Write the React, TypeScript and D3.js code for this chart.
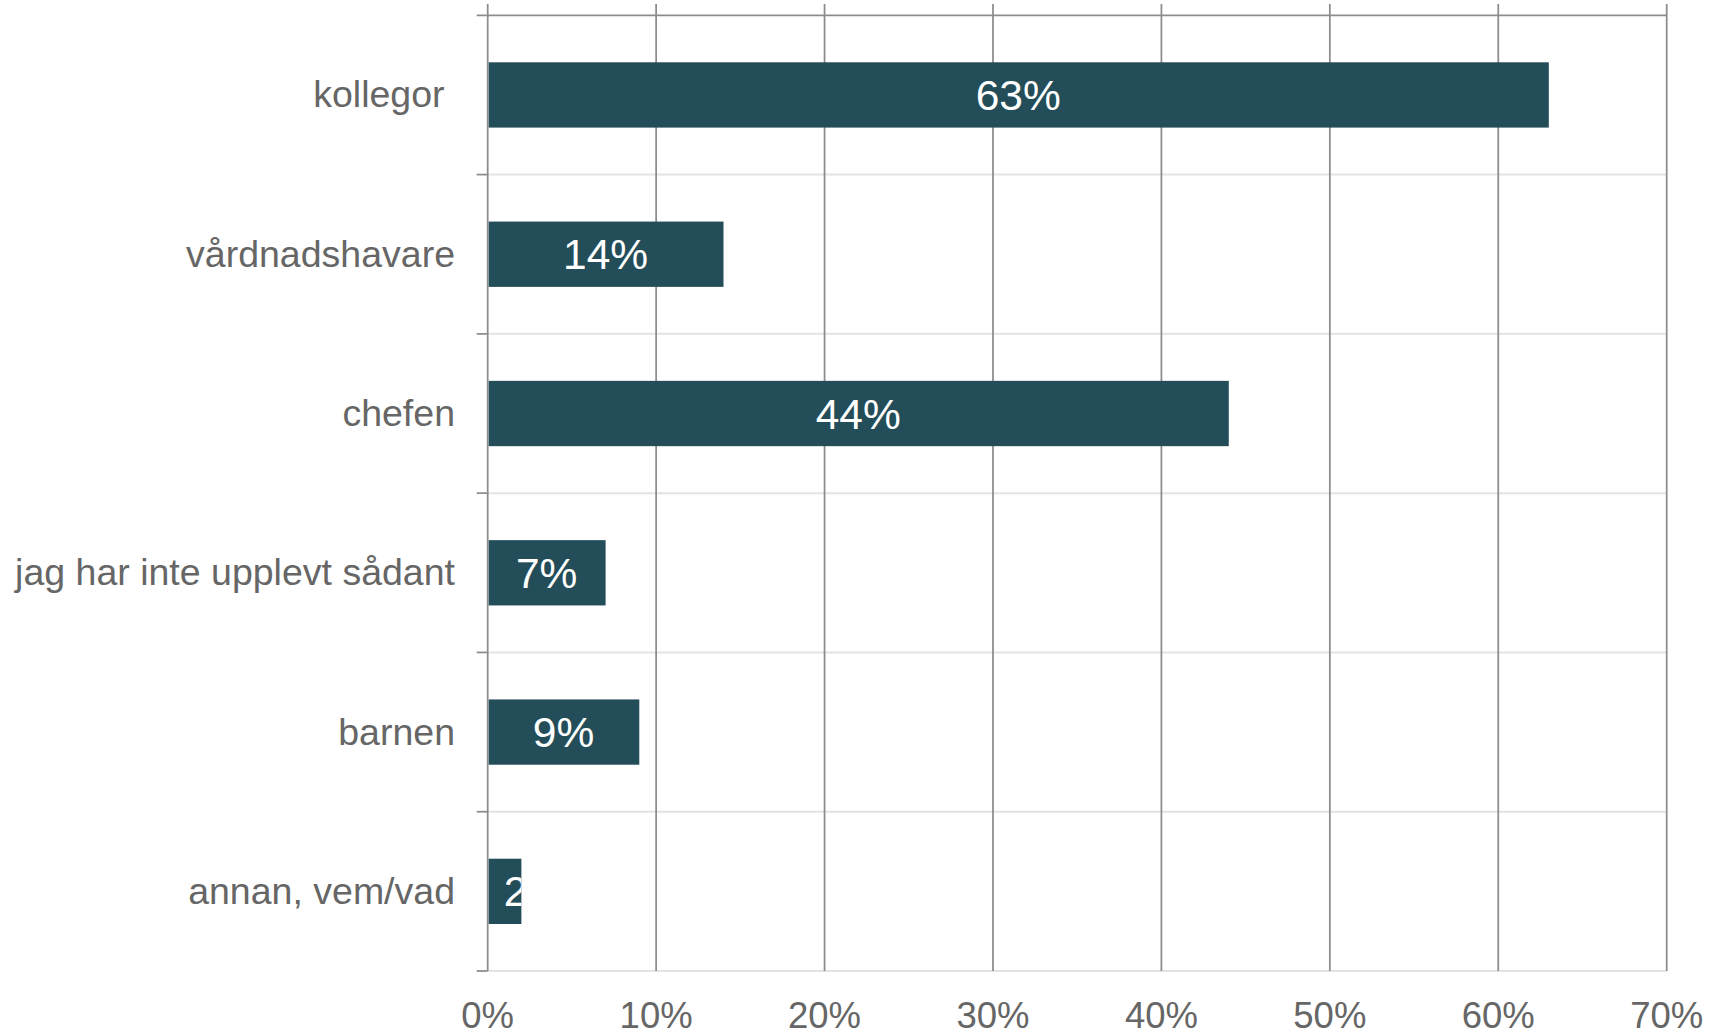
import * as React from 'react'
import * as d3 from 'd3'

// data
const categories = ['kollegor ', 'vårdnadshavare', 'chefen', 'jag har inte upplevt sådant', 'barnen', 'annan, vem/vad']
const values = [0.63, 0.14, 0.44, 0.07, 0.09, 0.02]
const valueLabels = ['63%', '14%', '44%', '7%', '9%', '2%']
const xTicks = [0, 0.1, 0.2, 0.3, 0.4, 0.5, 0.6, 0.7]

const width = 1711
const height = 1036
const left = 487.7
const right = 1666.7
const top = 15.3
const bottom = 971

const barColor = '#244d5a'
const gridColor = '#8c8c8c'
const sepColor = '#e3e3e3'
const textColor = '#666666'
const font = '"Liberation Sans", Arial, sans-serif'

const App = () => {
    const xScale = d3.scaleLinear().domain([0, 0.7]).range([left, right])
    const yScale = d3.scaleBand<string>()
                    .domain(categories)
                    .range([top, bottom])
                    .paddingInner(0.59)
                    .paddingOuter(0.295)
    const step = yScale.step()
    const bw = yScale.bandwidth()

    return (
        <svg width={width} height={height} style={{position: 'absolute', left: 0, top: 0}}>
            <rect x={0} y={0} width={width} height={height} fill="#fff" />

            {/* light separators between categories */}
            {categories.map((c, i) => (
                <line key={'s' + i} x1={left} x2={right}
                    y1={top + (i + 1) * step} y2={top + (i + 1) * step}
                    stroke={sepColor} strokeWidth={2} />
            ))}

            {/* vertical gridlines */}
            {xTicks.map((t, i) => (
                <line key={'g' + i} x1={xScale(t)} x2={xScale(t)} y1={4} y2={bottom}
                    stroke={gridColor} strokeWidth={1.75} />
            ))}

            {/* top axis line */}
            <line x1={left - 11} x2={right} y1={top} y2={top} stroke={gridColor} strokeWidth={1.75} />

            {/* category ticks */}
            {categories.map((c, i) => (
                <line key={'t' + i} x1={left - 11} x2={left}
                    y1={top + (i + 1) * step} y2={top + (i + 1) * step}
                    stroke={gridColor} strokeWidth={1.75} />
            ))}

            <defs>
                {categories.map((c, i) => (
                    <clipPath key={'c' + i} id={'clip' + i}>
                        <rect x={xScale(0)} y={yScale(c)} width={xScale(values[i]) - xScale(0)} height={bw} />
                    </clipPath>
                ))}
            </defs>

            {/* bars */}
            {categories.map((c, i) => (
                <rect key={'b' + i} x={xScale(0) + 1} y={yScale(c)}
                    width={xScale(values[i]) - xScale(0) - 1} height={bw} fill={barColor} />
            ))}

            {/* value labels */}
            {categories.map((c, i) => {
                const x0 = xScale(0)
                const x1 = xScale(values[i])
                const estW = valueLabels[i].length * 42 * 0.66
                const narrow = x1 - x0 < estW
                return (
                    <text key={'v' + i} clipPath={'url(#clip' + i + ')'}
                        x={narrow ? x0 + 16 : (x0 + x1) / 2}
                        y={(yScale(c) as number) + bw / 2 + 15}
                        textAnchor={narrow ? 'start' : 'middle'}
                        fill="#ffffff" fontSize={42.5} fontFamily={font}>
                        {valueLabels[i]}
                    </text>
                )
            })}

            {/* category labels */}
            {categories.map((c, i) => (
                <text key={'l' + i} x={455} y={(yScale(c) as number) + bw / 2 + 12.5}
                    textAnchor="end" fill={textColor} fontSize={37.5} fontFamily={font}
                    xmlSpace="preserve" style={{whiteSpace: 'pre'}}>
                    {c}
                </text>
            ))}

            {/* x tick labels */}
            {xTicks.map((t, i) => (
                <text key={'x' + i} x={xScale(t)} y={1028} textAnchor="middle"
                    fill={textColor} fontSize={36.5} fontFamily={font}>
                    {d3.format('.0%')(t)}
                </text>
            ))}
        </svg>
    )
}

export default App
